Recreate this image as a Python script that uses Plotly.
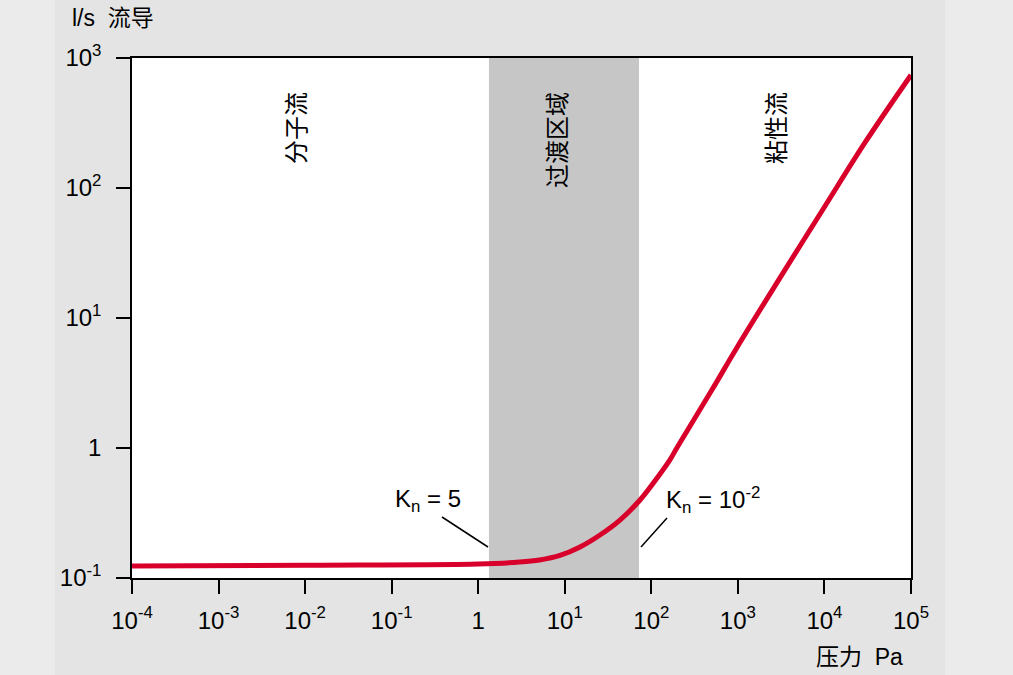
import plotly.graph_objects as go

# Data (pressure in Pa, conductance in l/s)
pressure = [1e-4, 1e-2, 1, 3, 5.1, 8.8, 15, 25.5, 43.4, 74, 126, 164, 200, 500, 1000, 3000, 1e4, 3e4, 1e5]
conductance = [0.1237, 0.1254, 0.128, 0.1325, 0.1375, 0.149, 0.173, 0.214, 0.279, 0.398, 0.631, 0.81,
               1.018, 2.79, 6.09, 19.9, 71.4, 228, 740]

band = [1.33, 72]  # transition region (Pa)

x_tickvals = [1e-4, 1e-3, 1e-2, 1e-1, 1, 10, 100, 1e3, 1e4, 1e5]
x_ticktext = ["10<sup>-4</sup>", "10<sup>-3</sup>", "10<sup>-2</sup>", "10<sup>-1</sup>", "1",
              "10<sup>1</sup>", "10<sup>2</sup>", "10<sup>3</sup>", "10<sup>4</sup>", "10<sup>5</sup>"]
y_tickvals = [0.1, 1, 10, 100, 1000]
y_ticktext = ["10<sup>-1</sup>", "1", "10<sup>1</sup>", "10<sup>2</sup>", "10<sup>3</sup>"]

regions = ["分子流", "过渡区域", "粘性流"]

FONT = "Liberation Sans, Arial, Noto Sans CJK SC, sans-serif"
RED = "#d8002b"

# plot area in pixels: left 132, right 911, top 58, bottom 578
L, R, T, B = 132, 911, 58, 578
def px(x):
    return (x - L) / (R - L)
def py(y):
    return (B - y) / (B - T)

fig = go.Figure()
fig.add_trace(go.Scatter(x=pressure, y=conductance, mode="lines",
                         line=dict(color=RED, width=5, shape="spline", smoothing=1.0),
                         hoverinfo="skip", showlegend=False))

shapes = [
    dict(type="rect", xref="paper", yref="paper", x0=px(0), x1=px(55), y0=py(675), y1=py(0),
         fillcolor="#ebebeb", line_width=0, layer="below"),
    dict(type="rect", xref="paper", yref="paper", x0=px(945), x1=px(1013), y0=py(675), y1=py(0),
         fillcolor="#ebebeb", line_width=0, layer="below"),
    dict(type="rect", xref="x", yref="paper", x0=band[0], x1=band[1], y0=0, y1=1,
         fillcolor="#c5c6c5", line_width=0, layer="below"),
    dict(type="line", xref="paper", yref="paper", x0=px(442), y0=py(517), x1=px(488), y1=py(547),
         line=dict(color="black", width=1.5)),
    dict(type="line", xref="paper", yref="paper", x0=px(667), y0=py(518), x1=px(641), y1=py(547),
         line=dict(color="black", width=1.5)),
]

def ann(x, y, text, xanchor="center", yanchor="middle", angle=0, size=24):
    return dict(x=px(x), y=py(y), xref="paper", yref="paper", text=text, textangle=angle,
                xanchor=xanchor, yanchor=yanchor, showarrow=False,
                font=dict(family=FONT, size=size, color="black"))

annotations = [
    ann(297, 128, regions[0], angle=-90),
    ann(557, 140, regions[1], angle=-90),
    ann(777, 128, regions[2], angle=-90),
    ann(428, 500, "K<sub>n</sub> = 5"),
    ann(664, 500, "K<sub>n</sub> = 10<sup>-2</sup>", xanchor="left"),
    ann(70, 18, "l/s  流导", xanchor="left", size=23),
    ann(814, 657, "压力  Pa", xanchor="left", size=23),
]

fig.update_layout(
    width=1013, height=675,
    margin=dict(l=L, r=1013 - R, t=T, b=675 - B),
    paper_bgcolor="#e3e4e3", plot_bgcolor="white",
    font=dict(family=FONT, size=24, color="black"),
    shapes=shapes, annotations=annotations, showlegend=False,
)
axis_common = dict(type="log", ticks="outside", ticklen=14, tickwidth=1.5, tickcolor="black",
                   showline=True, linecolor="black", linewidth=1.5, mirror=True,
                   showgrid=False, zeroline=False, tickfont=dict(family=FONT, size=24))
fig.update_xaxes(range=[-4, 5], tickvals=x_tickvals, ticktext=x_ticktext,
                 ticklabelstandoff=6, **axis_common)
fig.update_yaxes(range=[-1, 3], tickvals=y_tickvals, ticktext=y_ticktext,
                 ticklabelstandoff=10, **axis_common)

fig.write_html("out.html", config={"displayModeBar": False},
               post_script="document.body.style.margin='0';document.body.style.overflow='hidden';")
